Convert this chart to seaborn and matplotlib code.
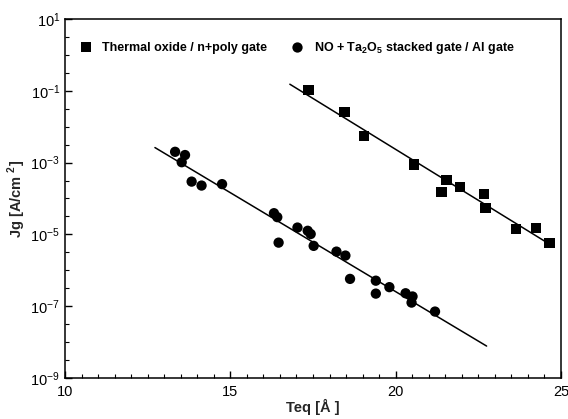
import matplotlib
matplotlib.use("Agg")
import matplotlib.pyplot as plt
from matplotlib.ticker import FixedLocator, MultipleLocator, NullFormatter
import numpy as np
import pandas as pd
import seaborn as sns

# Thermal oxide / n+poly gate (squares)
thermal_teq = [17.36, 18.45, 19.05, 20.55, 21.54, 21.39, 21.94, 22.68, 22.72, 23.64, 24.24, 24.65]
thermal_log_jg = [-0.98, -1.60, -2.25, -3.05, -3.48, -3.82, -3.68, -3.87, -4.27, -4.85, -4.83, -5.24]
thermal_fit_range = [16.8, 24.77]

# NO + Ta2O5 stacked gate / Al gate (circles)
stack_teq = [13.33, 13.63, 13.53, 13.83, 14.13, 14.75, 16.32, 16.42, 16.46, 17.03, 17.34, 17.43,
             17.52, 18.21, 18.48, 18.62, 19.40, 19.40, 19.81, 20.30, 20.51, 20.48, 21.19]
stack_log_jg = [-2.70, -2.79, -2.99, -3.53, -3.64, -3.60, -4.41, -4.52, -5.23, -4.81, -4.90, -4.99,
                -5.32, -5.48, -5.59, -6.24, -6.29, -6.65, -6.47, -6.64, -6.73, -6.90, -7.15]
stack_fit_range = [12.72, 22.75]

label_thermal = "Thermal oxide / n+poly gate"
label_stack = "NO + Ta$_\\mathbf{2}$O$_\\mathbf{5}$ stacked gate / Al gate"

df = pd.DataFrame({
    "Teq": thermal_teq + stack_teq,
    "Jg": 10 ** np.array(thermal_log_jg + stack_log_jg),
    "series": [label_thermal] * len(thermal_teq) + [label_stack] * len(stack_teq),
})

sns.set_style("ticks")
plt.rcParams['font.family'] = ['Liberation Sans', 'DejaVu Sans']
plt.rcParams['mathtext.fontset'] = 'custom'
plt.rcParams['mathtext.rm'] = 'Liberation Sans'
plt.rcParams['mathtext.bf'] = 'Liberation Sans:bold'

fig = plt.figure(figsize=(5.68, 4.19), dpi=100)
ax = fig.add_axes([0.1144, 0.0979, 0.8733, 0.8568])

sns.scatterplot(data=df, x="Teq", y="Jg", style="series", markers={label_thermal: "s", label_stack: "o"},
                color="black", s=55, edgecolor="black", linewidth=0, ax=ax)

# straight-line fits in log space
for xs, ys, rng in [(thermal_teq, thermal_log_jg, thermal_fit_range),
                    (stack_teq, stack_log_jg, stack_fit_range)]:
    k, b = np.polyfit(xs, ys, 1)
    xx = np.array(rng)
    ax.plot(xx, 10 ** (k * xx + b), color="black", lw=1.1, zorder=1)

ax.set_yscale("log")
ax.set_xlim(10, 25)
ax.set_ylim(1e-9, 1e1)
ax.set_xticks([10, 15, 20, 25])
ax.xaxis.set_minor_locator(MultipleLocator(0.5))
ax.set_yticks([10.0 ** e for e in [1, -1, -3, -5, -7, -9]])
ax.yaxis.set_minor_locator(FixedLocator([10.0 ** (e / 2) for e in range(-18, 3)]))
ax.yaxis.set_minor_formatter(NullFormatter())
ax.tick_params(which="both", direction="in", colors="black", labelsize=10.5)
ax.tick_params(which="major", length=5, width=1)
ax.tick_params(which="minor", length=3, width=0.8)
ax.tick_params(axis="x", pad=5)
for s in ax.spines.values():
    s.set_color("black")
    s.set_linewidth(1.1)

ax.set_xlabel("Teq [Å ]", fontsize=10.5, fontweight="bold", labelpad=0)
ax.set_ylabel("Jg [A/cm $^\\mathbf{2}$]", fontsize=10.5, fontweight="bold", labelpad=2)

leg = ax.legend(loc="upper left", ncol=2, frameon=False, bbox_to_anchor=(0.0, 0.965),
                prop={"weight": "bold", "size": 9}, handletextpad=0.3, columnspacing=1.4,
                markerscale=1.0, borderaxespad=0.3)
for t in leg.get_texts():
    t.set_color("black")

fig.savefig("out.png", dpi=100)
